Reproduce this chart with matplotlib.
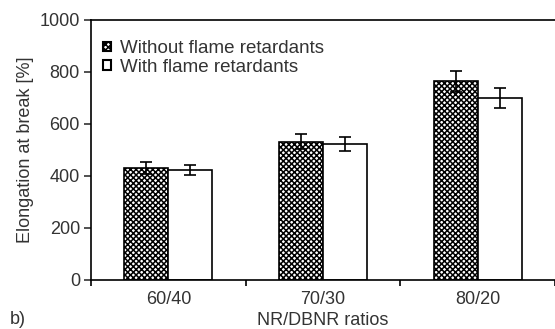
import matplotlib
matplotlib.use("Agg")
import matplotlib.pyplot as plt
import numpy as np

plt.rcParams['font.family'] = ['Liberation Sans', 'DejaVu Sans']
plt.rcParams['hatch.linewidth'] = 1.1

categories = ["60/40", "70/30", "80/20"]
without_fr = [431, 532, 765]
without_err = [22, 29, 40]
with_fr = [423, 523, 699]
with_err = [20, 27, 38]
series_labels = ["Without flame retardants", "With flame retardants"]
yticks = [0, 200, 400, 600, 800, 1000]

fig = plt.figure(figsize=(5.55, 3.29), dpi=100)
ax = fig.add_axes([91/555, 49/329, 1 - 91/555, 260/329])

x = np.arange(len(categories))
w = 0.285
ax.bar(x - w/2, without_fr, w, facecolor='white', edgecolor='black', hatch='xxxxxx',
       linewidth=1.2, label=series_labels[0], zorder=2)
ax.bar(x + w/2, with_fr, w, facecolor='white', edgecolor='black',
       linewidth=1.2, label=series_labels[1], zorder=2)
ax.errorbar(x - w/2, without_fr, yerr=without_err, fmt='none', ecolor='black',
            elinewidth=1.2, capsize=4, capthick=1.2, zorder=3)
ax.errorbar(x + w/2, with_fr, yerr=with_err, fmt='none', ecolor='black',
            elinewidth=1.2, capsize=4, capthick=1.2, zorder=3)

ax.set_xlim(-0.5, 2.43)
ax.set_ylim(0, 1000)
ax.set_yticks(yticks)
ax.set_xticks(x)
ax.set_xticklabels(categories)
ax.set_xticks([-0.5, 0.5, 1.5, 2.5], minor=True)
ax.tick_params(axis='x', which='major', length=0, pad=8, labelsize=13, colors='#333333')
ax.tick_params(axis='x', which='minor', length=4, width=1.2, direction='out')
ax.tick_params(axis='y', length=5, width=1.2, direction='out', labelsize=13, colors='#333333', pad=3)
for s in ['left', 'bottom', 'top']:
    ax.spines[s].set_linewidth(1.2)
ax.spines['right'].set_visible(False)

ax.set_ylabel("Elongation at break [%]", fontsize=13, color='#333333', labelpad=4)
ax.set_xlabel("NR/DBNR ratios", fontsize=13, color='#333333', labelpad=3)

leg = ax.legend(loc='upper left', bbox_to_anchor=(0.002, 0.965), frameon=False,
                fontsize=13.5, handlelength=0.4, handleheight=0.4, handletextpad=0.5,
                labelspacing=0.08, borderaxespad=0.2)
for t in leg.get_texts():
    t.set_color('#333333')
for h in leg.legend_handles:
    h.set_linewidth(1.5)

fig.text(10/555, 1 - 320/329, "b)", fontsize=13, color='#333333', va='center', ha='left')

fig.savefig("out.png", dpi=100)
